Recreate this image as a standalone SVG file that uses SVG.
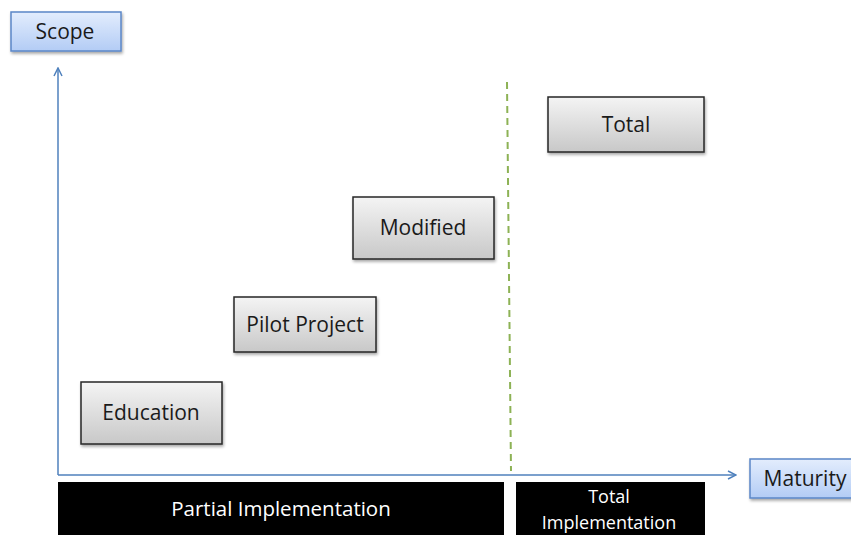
<svg xmlns="http://www.w3.org/2000/svg" width="851" height="535" viewBox="0 0 851 535">
<style>
.node rect{fill:url(#gray);stroke:#262626;stroke-width:1.5;filter:url(#sh)}
.axis rect{fill:url(#blue);stroke:#5b87c7;stroke-width:1.5;filter:url(#sh)}
text{font-family:"Open Sans","Noto Sans",sans-serif;text-anchor:middle}
.node text,.axis text{font-size:21px;fill:#1a1a1a}
.bar rect{fill:#000}
.bar text{font-size:20.5px;fill:#fff}
.conn line{stroke:#4f81bd;stroke-width:1.5;fill:none}
</style>
<defs>
<linearGradient id="gray" x1="0" y1="0" x2="0" y2="1">
<stop offset="0" stop-color="#f4f4f4"/><stop offset="1" stop-color="#c8c8c8"/>
</linearGradient>
<linearGradient id="blue" x1="0" y1="0" x2="0" y2="1">
<stop offset="0" stop-color="#e3edfd"/><stop offset="1" stop-color="#b3ccf5"/>
</linearGradient>
<filter id="sh" x="-10%" y="-10%" width="130%" height="140%">
<feDropShadow dx="1" dy="2" stdDeviation="1.5" flood-color="#000" flood-opacity="0.35"/>
</filter>
<marker id="arr" viewBox="0 0 10 10" refX="9" refY="5" markerWidth="10" markerHeight="10" markerUnits="userSpaceOnUse" orient="auto">
<path d="M1,1 L9,5 L1,9" fill="none" stroke="#4f81bd" stroke-width="1.5"/>
</marker>
</defs>
<g id="connectors" class="conn">
<line x1="58" y1="475" x2="58" y2="68" marker-end="url(#arr)"/>
<line x1="58" y1="475" x2="736" y2="475" marker-end="url(#arr)"/>
<line x1="507" y1="82" x2="511" y2="471" style="stroke:#8db255;stroke-width:2;stroke-dasharray:7,5"/>
</g>
<g id="scope" class="axis"><rect x="11" y="12" width="110" height="39"/><text x="65" y="39">Scope</text></g>
<g id="maturity" class="axis"><rect x="750" y="459" width="110" height="39"/><text x="805" y="486">Maturity</text></g>
<g id="education" class="node"><rect x="81" y="382" width="141" height="62"/><text x="151" y="420">Education</text></g>
<g id="pilot" class="node"><rect x="234" y="297" width="142" height="55"/><text x="305" y="332">Pilot Project</text></g>
<g id="modified" class="node"><rect x="353" y="197" width="141" height="62"/><text x="423" y="235">Modified</text></g>
<g id="total" class="node"><rect x="548" y="97" width="156" height="55"/><text x="626" y="132">Total</text></g>
<g id="partial-impl" class="bar"><rect x="58" y="482" width="446" height="60"/><text x="281" y="516">Partial Implementation</text></g>
<g id="total-impl" class="bar"><rect x="516" y="482" width="189" height="60"/><text x="609" y="503" style="font-size:18px">Total</text><text x="609" y="529" style="font-size:18px">Implementation</text></g>
</svg>
